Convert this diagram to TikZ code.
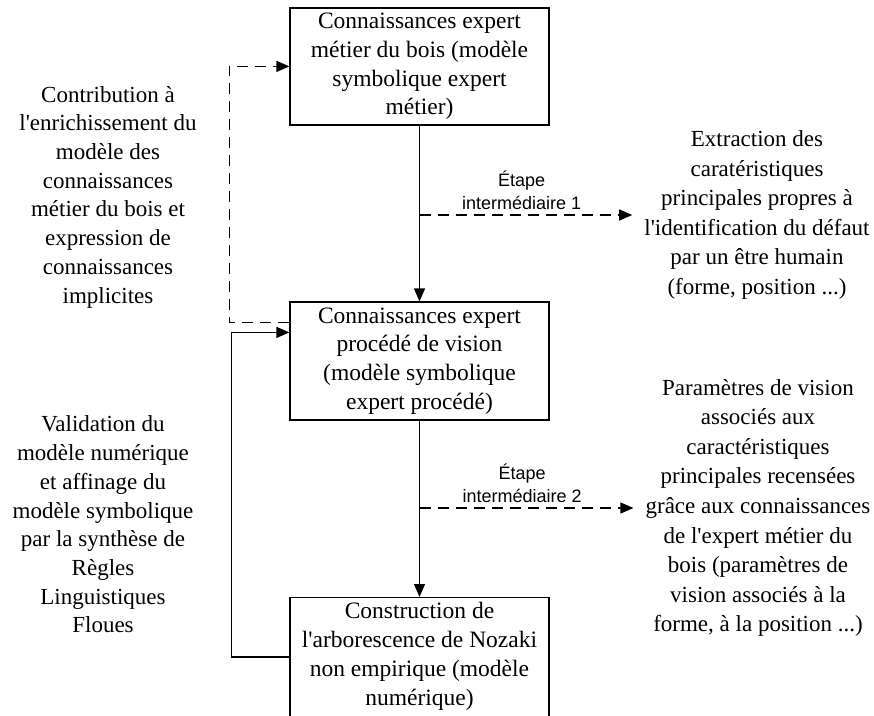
\documentclass[tikz,border=0pt]{standalone}
\usepackage{fontspec}
\setmainfont{Liberation Serif}[Ligatures=TeXOff]
\newfontfamily\labelfont{Liberation Sans}
\usetikzlibrary{arrows.meta,calc}

\tikzset{
  box/.style={draw, line width=1.2pt, minimum width=259pt, inner sep=0pt,
    align=center, font=\fontsize{23.5}{28.7}\selectfont},
  note/.style={align=center, inner xsep=12pt, inner ysep=0pt,
    font=\fontsize{23}{29.6}\selectfont},
  leftnote/.style={note, font=\fontsize{23}{28.7}\selectfont},
  steplabel/.style={align=center, inner sep=2pt,
    font=\labelfont\fontsize{18}{23}\selectfont},
  link/.style={line width=1.2pt, -{Triangle[length=13pt,width=11pt]}},
  dlink/.style={link, dash pattern=on 11pt off 7pt}
}

\begin{document}
\begin{tikzpicture}[x=1pt,y=-1pt]
  \useasboundingbox (0,0) rectangle (874,715);
  \clip (0,0) rectangle (874,715);

  % the three knowledge models
  \node[box, minimum height=117pt] (b1) at (419.5,66.5)
    {Connaissances expert\\métier du bois (modèle\\symbolique expert\\métier)};
  \node[box, minimum height=118pt] (b2) at (419.5,361)
    {Connaissances expert\\procédé de vision\\(modèle symbolique\\expert procédé)};
  % the last box runs on past the lower edge
  \node[box, anchor=north, inner ysep=5pt] (b3) at (419.5,597)
    {Construction de\\l'arborescence de Nozaki\\non empirique (modèle\\numérique)\\[40pt]\mbox{}};

  % side notes
  \node[note] (t1) at (757,215)
    {Extraction des\\caratéristiques\\principales propres à\\l'identification du défaut\\par un être humain\\(forme, position ...)};
  \node[note] (t2) at (758,508)
    {Paramètres de vision\\associés aux\\caractéristiques\\principales recensées\\grâce aux connaissances\\de l'expert métier du\\bois (paramètres de\\vision associés à la\\forme, à la position ...)};
  \node[leftnote] (l1) at (108,197)
    {Contribution à\\l'enrichissement du\\modèle des\\connaissances\\métier du bois et\\expression de\\connaissances\\implicites};
  \node[leftnote] (l2) at (103,524.5)
    {Validation du\\modèle numérique\\et affinage du\\modèle symbolique\\par la synthèse de\\Règles\\Linguistiques\\Floues};

  % main chain
  \draw[link] (b1.south) -- (b2.north);
  \draw[link] (b2.south) -- (b3.north);

  % intermediate steps
  \draw[dlink] (b1.south |- t1.west) -- (t1.west)
    node[pos=0.48, above=3pt, steplabel] {Étape\\intermédiaire 1};
  \draw[dlink] (b2.south |- t2.west) -- (t2.west)
    node[pos=0.48, above=3pt, steplabel] {Étape\\intermédiaire 2};

  % feedback loops
  \draw[dlink] ([yshift=-21pt]b2.north west) -- ++(-60,0)
    |- ([yshift=-59pt]b1.north west);
  \draw[link] ([yshift=-60pt]b3.north west) -- ++(-58,0)
    |- ([yshift=-31pt]b2.north west);
\end{tikzpicture}
\end{document}
